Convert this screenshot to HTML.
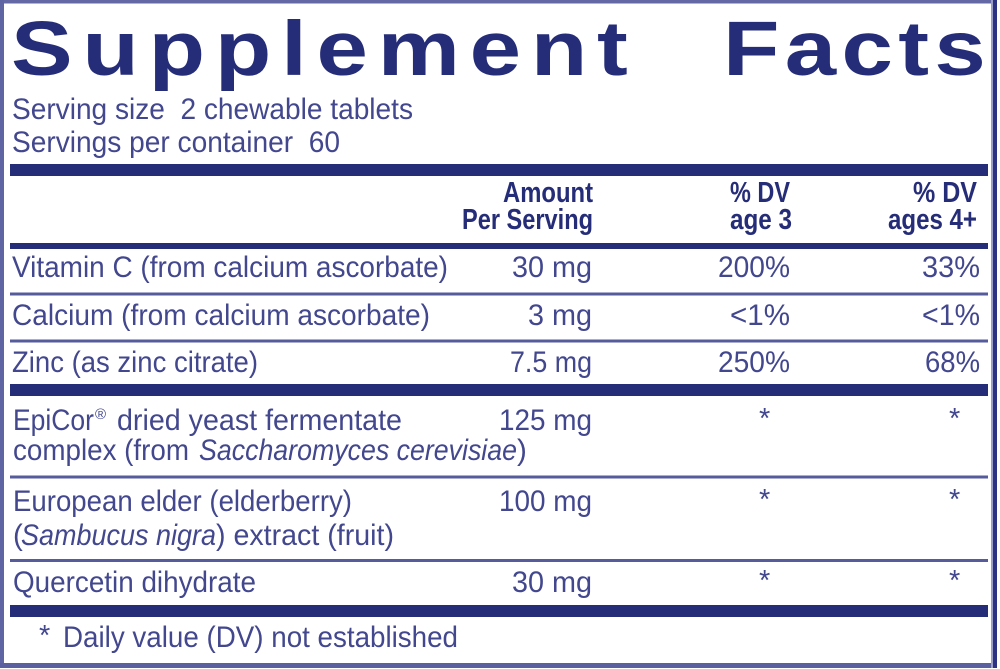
<!DOCTYPE html>
<html>
<head>
<meta charset="utf-8">
<style>
  html, body { margin: 0; padding: 0; background: #ffffff; }
  svg { display: block; }
  text { font-family: "Liberation Sans", Arial, sans-serif; }
  .r { font-size: 29.5px; fill: #42478e; }
  .b { font-size: 29px; font-weight: bold; fill: #262d78; }
  .t { font-size: 77px; font-weight: bold; fill: #262d78; }
  .a { font-size: 29px; fill: #42478e; }
</style>
</head>
<body>
<svg width="1000" height="669" viewBox="0 0 1000 669" xmlns="http://www.w3.org/2000/svg">
  <rect x="0" y="0" width="1000" height="669" fill="#ffffff"/>

  <!-- outer frame -->
  <rect x="0" y="0" width="997" height="3.5" fill="#6469a5"/>
  <rect x="0" y="0" width="4" height="668" fill="#5f65a3"/>
  <rect x="0" y="663" width="997" height="5" fill="#5a5fa0"/>
  <rect x="991" y="0" width="2" height="668" fill="#9a9dc8"/>
  <rect x="993" y="0" width="4" height="668" fill="#2c3281"/>

  <!-- Title -->
  <g transform="scale(1.2 1)">
    <text class="t" x="9.2" y="75" textLength="514" lengthAdjust="spacing">Supplement</text>
    <text class="t" x="602.5" y="75" textLength="219" lengthAdjust="spacing">Facts</text>
  </g>

  <!-- Serving info -->
  <text class="r" x="12" y="119" textLength="401" lengthAdjust="spacingAndGlyphs">Serving size&#160; 2 chewable tablets</text>
  <text class="r" x="12" y="152" textLength="328" lengthAdjust="spacingAndGlyphs">Servings per container&#160; 60</text>

  <!-- bars -->
  <rect x="10" y="164" width="978" height="12" fill="#262d78"/>
  <rect x="10" y="243" width="978" height="6" fill="#262d78"/>
  <rect x="10" y="292.5" width="978" height="3" fill="#565b9c"/>
  <rect x="10" y="339.5" width="978" height="3" fill="#565b9c"/>
  <rect x="10" y="384" width="978" height="12" fill="#262d78"/>
  <rect x="10" y="475.5" width="978" height="3" fill="#565b9c"/>
  <rect x="10" y="559" width="978" height="3" fill="#565b9c"/>
  <rect x="10" y="605" width="978" height="12" fill="#262d78"/>

  <!-- Header -->
  <text class="b" x="503" y="202" textLength="90" lengthAdjust="spacingAndGlyphs">Amount</text>
  <text class="b" x="462" y="229" textLength="131" lengthAdjust="spacingAndGlyphs">Per Serving</text>
  <text class="b" x="730" y="202" textLength="60" lengthAdjust="spacingAndGlyphs">% DV</text>
  <text class="b" x="730" y="229" textLength="62" lengthAdjust="spacingAndGlyphs">age 3</text>
  <text class="b" x="913" y="202" textLength="64" lengthAdjust="spacingAndGlyphs">% DV</text>
  <text class="b" x="888" y="229" textLength="89" lengthAdjust="spacingAndGlyphs">ages 4+</text>

  <!-- Row: Vitamin C -->
  <text class="r" x="12" y="277" textLength="436" lengthAdjust="spacingAndGlyphs">Vitamin C (from calcium ascorbate)</text>
  <text class="r" x="512" y="277" textLength="80" lengthAdjust="spacingAndGlyphs">30 mg</text>
  <text class="r" x="718" y="277" textLength="72" lengthAdjust="spacingAndGlyphs">200%</text>
  <text class="r" x="922" y="277" textLength="58" lengthAdjust="spacingAndGlyphs">33%</text>

  <!-- Row: Calcium -->
  <text class="r" x="12" y="325" textLength="418" lengthAdjust="spacingAndGlyphs">Calcium (from calcium ascorbate)</text>
  <text class="r" x="528" y="325" textLength="64" lengthAdjust="spacingAndGlyphs">3 mg</text>
  <text class="r" x="730" y="325" textLength="60" lengthAdjust="spacingAndGlyphs">&lt;1%</text>
  <text class="r" x="922" y="325" textLength="58" lengthAdjust="spacingAndGlyphs">&lt;1%</text>

  <!-- Row: Zinc -->
  <text class="r" x="12" y="372" textLength="246" lengthAdjust="spacingAndGlyphs">Zinc (as zinc citrate)</text>
  <text class="r" x="510" y="372" textLength="82" lengthAdjust="spacingAndGlyphs">7.5 mg</text>
  <text class="r" x="718" y="372" textLength="72" lengthAdjust="spacingAndGlyphs">250%</text>
  <text class="r" x="925" y="372" textLength="55" lengthAdjust="spacingAndGlyphs">68%</text>

  <!-- Row: EpiCor -->
  <text class="r" x="13" y="430" textLength="81" lengthAdjust="spacingAndGlyphs">EpiCor</text>
  <text class="r" x="95" y="419" style="font-size:15px">®</text>
  <text class="r" x="117" y="430" textLength="285" lengthAdjust="spacingAndGlyphs">dried yeast fermentate</text>
  <text class="r" x="499" y="430" textLength="93" lengthAdjust="spacingAndGlyphs">125 mg</text>
  <text class="a" x="759" y="428">*</text>
  <text class="a" x="949" y="428">*</text>
  <text class="r" x="13" y="460" textLength="176" lengthAdjust="spacingAndGlyphs">complex (from</text>
  <text class="r" x="199" y="460" textLength="318" lengthAdjust="spacingAndGlyphs" font-style="italic">Saccharomyces cerevisiae</text>
  <text class="r" x="517" y="460">)</text>

  <!-- Row: European elder -->
  <text class="r" x="13" y="511" textLength="339" lengthAdjust="spacingAndGlyphs">European elder (elderberry)</text>
  <text class="r" x="499" y="511" textLength="93" lengthAdjust="spacingAndGlyphs">100 mg</text>
  <text class="a" x="759" y="509">*</text>
  <text class="a" x="949" y="509">*</text>
  <text class="r" x="13" y="545">(</text>
  <text class="r" x="21" y="545" textLength="195" lengthAdjust="spacingAndGlyphs" font-style="italic">Sambucus nigra</text>
  <text class="r" x="216" y="545" textLength="178" lengthAdjust="spacingAndGlyphs">) extract (fruit)</text>

  <!-- Row: Quercetin -->
  <text class="r" x="13" y="592" textLength="243" lengthAdjust="spacingAndGlyphs">Quercetin dihydrate</text>
  <text class="r" x="512" y="592" textLength="80" lengthAdjust="spacingAndGlyphs">30 mg</text>
  <text class="a" x="759" y="590">*</text>
  <text class="a" x="949" y="590">*</text>

  <!-- Footer -->
  <text class="a" x="39" y="645">*</text>
  <text class="r" x="63" y="647" textLength="395" lengthAdjust="spacingAndGlyphs">Daily value (DV) not established</text>
</svg>
</body>
</html>
